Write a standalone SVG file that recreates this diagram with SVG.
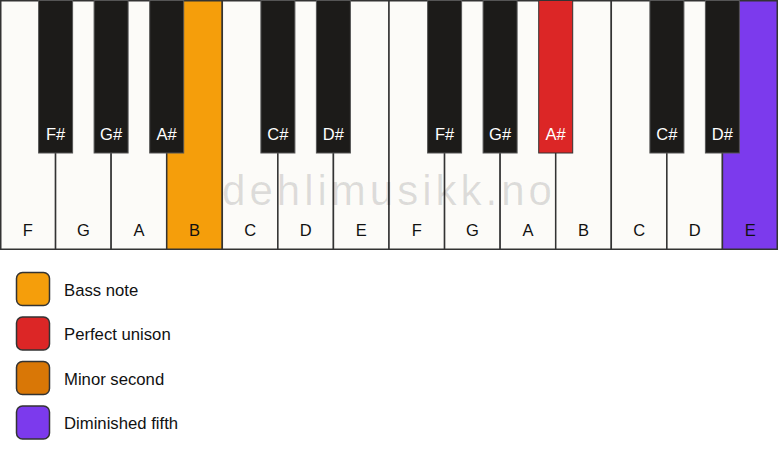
<svg xmlns="http://www.w3.org/2000/svg" width="778" height="461" viewBox="0 0 778 461">
<style>
.w{fill:#fcfbf8;stroke:#333;stroke-width:1.5}
.b{fill:#1c1b19;stroke:#555;stroke-width:1}
.wl{font-family:"Liberation Sans",Arial,sans-serif;font-size:16.5px;fill:#111;text-anchor:middle}
.bl{font-family:"Liberation Sans",Arial,sans-serif;font-size:16.5px;fill:#fff;text-anchor:middle}
.lg{stroke:#333;stroke-width:1.5}
.lt{font-family:"Liberation Sans",Arial,sans-serif;font-size:16.7px;fill:#111}
</style>
<rect width="778" height="461" fill="#ffffff"/>
<g id="white-keys">
<g id="wk-F1"><rect class="w" x="0.75" y="0.75" width="54.82" height="248.5"/><text class="wl" x="27.8" y="236">F</text></g>
<g id="wk-G1"><rect class="w" x="55.57" y="0.75" width="55.57" height="248.5"/><text class="wl" x="83.4" y="236">G</text></g>
<g id="wk-A1"><rect class="w" x="111.14" y="0.75" width="55.57" height="248.5"/><text class="wl" x="138.9" y="236">A</text></g>
<g id="wk-B1"><rect class="w" x="166.71" y="0.75" width="55.57" height="248.5" style="fill:#f59e0b"/><text class="wl" x="194.5" y="236">B</text></g>
<g id="wk-C1"><rect class="w" x="222.29" y="0.75" width="55.57" height="248.5"/><text class="wl" x="250.1" y="236">C</text></g>
<g id="wk-D1"><rect class="w" x="277.86" y="0.75" width="55.57" height="248.5"/><text class="wl" x="305.6" y="236">D</text></g>
<g id="wk-E1"><rect class="w" x="333.43" y="0.75" width="55.57" height="248.5"/><text class="wl" x="361.2" y="236">E</text></g>
<g id="wk-F2"><rect class="w" x="389" y="0.75" width="55.57" height="248.5"/><text class="wl" x="416.8" y="236">F</text></g>
<g id="wk-G2"><rect class="w" x="444.57" y="0.75" width="55.57" height="248.5"/><text class="wl" x="472.4" y="236">G</text></g>
<g id="wk-A2"><rect class="w" x="500.14" y="0.75" width="55.57" height="248.5"/><text class="wl" x="527.9" y="236">A</text></g>
<g id="wk-B2"><rect class="w" x="555.71" y="0.75" width="55.57" height="248.5"/><text class="wl" x="583.5" y="236">B</text></g>
<g id="wk-C2"><rect class="w" x="611.29" y="0.75" width="55.57" height="248.5"/><text class="wl" x="639.1" y="236">C</text></g>
<g id="wk-D2"><rect class="w" x="666.86" y="0.75" width="55.57" height="248.5"/><text class="wl" x="694.6" y="236">D</text></g>
<g id="wk-E2"><rect class="w" x="722.43" y="0.75" width="54.82" height="248.5" style="fill:#7c3aed"/><text class="wl" x="750.2" y="236">E</text></g>
</g>
<text x="389" y="205" font-family="'Liberation Sans',Arial,sans-serif" font-size="42" letter-spacing="4" fill="#000" fill-opacity="0.12" text-anchor="middle">dehlimusikk.no</text>
<g id="black-keys">
<g id="bk-Fs1"><rect class="b" x="38.6" y="0.5" width="34" height="152.5"/><text class="bl" x="55.6" y="139.5">F#</text></g>
<g id="bk-Gs1"><rect class="b" x="94.1" y="0.5" width="34" height="152.5"/><text class="bl" x="111.1" y="139.5">G#</text></g>
<g id="bk-As1"><rect class="b" x="149.7" y="0.5" width="34" height="152.5"/><text class="bl" x="166.7" y="139.5">A#</text></g>
<g id="bk-Cs1"><rect class="b" x="260.9" y="0.5" width="34" height="152.5"/><text class="bl" x="277.9" y="139.5">C#</text></g>
<g id="bk-Ds1"><rect class="b" x="316.4" y="0.5" width="34" height="152.5"/><text class="bl" x="333.4" y="139.5">D#</text></g>
<g id="bk-Fs2"><rect class="b" x="427.6" y="0.5" width="34" height="152.5"/><text class="bl" x="444.6" y="139.5">F#</text></g>
<g id="bk-Gs2"><rect class="b" x="483.1" y="0.5" width="34" height="152.5"/><text class="bl" x="500.1" y="139.5">G#</text></g>
<g id="bk-As2"><rect class="b" x="538.7" y="0.5" width="34" height="152.5" style="fill:#dc2626;stroke:#333"/><text class="bl" x="555.7" y="139.5">A#</text></g>
<g id="bk-Cs2"><rect class="b" x="649.9" y="0.5" width="34" height="152.5"/><text class="bl" x="666.9" y="139.5">C#</text></g>
<g id="bk-Ds2"><rect class="b" x="705.4" y="0.5" width="34" height="152.5"/><text class="bl" x="722.4" y="139.5">D#</text></g>
</g>
<g id="connectors"/>
<g id="legend">
<g id="lg-bass"><rect class="lg" x="16.5" y="272.5" width="33" height="33" rx="6" fill="#f59e0b"/><text class="lt" x="64" y="295.5">Bass note</text></g>
<g id="lg-unison"><rect class="lg" x="16.5" y="317" width="33" height="33" rx="6" fill="#dc2626"/><text class="lt" x="64" y="340">Perfect unison</text></g>
<g id="lg-minor2"><rect class="lg" x="16.5" y="361.5" width="33" height="33" rx="6" fill="#d97706"/><text class="lt" x="64" y="384.5">Minor second</text></g>
<g id="lg-dim5"><rect class="lg" x="16.5" y="406" width="33" height="33" rx="6" fill="#7c3aed"/><text class="lt" x="64" y="429">Diminished fifth</text></g>
</g>
</svg>
